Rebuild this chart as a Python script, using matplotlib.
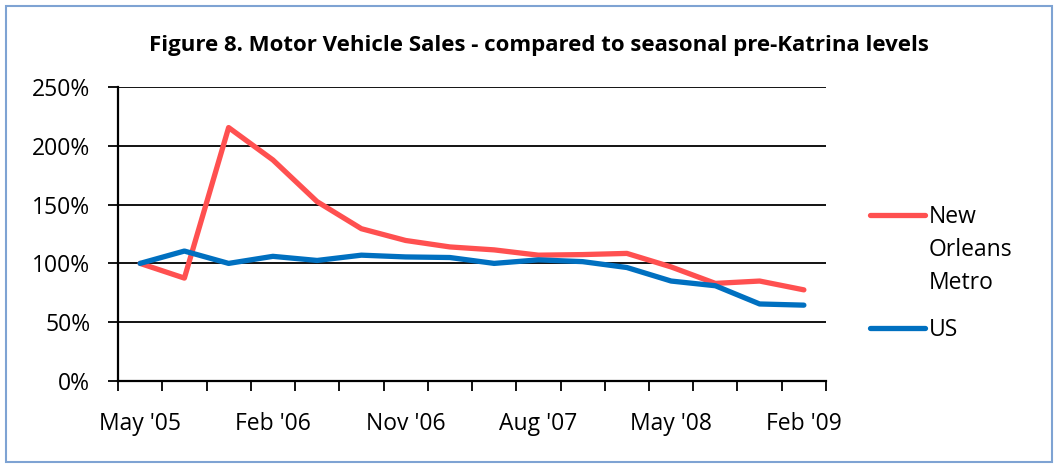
import matplotlib

matplotlib.use("Agg")
import matplotlib.pyplot as plt
from matplotlib.lines import Line2D
from matplotlib.patches import Rectangle
from matplotlib.ticker import FuncFormatter

quarters = ["May '05", "Aug '05", "Nov '05", "Feb '06", "May '06", "Aug '06",
            "Nov '06", "Feb '07", "May '07", "Aug '07", "Nov '07", "Feb '08",
            "May '08", "Aug '08", "Nov '08", "Feb '09"]
new_orleans = [100, 87.5, 215.5, 188, 152.5, 129.5, 119.5, 114, 111.5, 107,
               107.5, 108.5, 97, 83, 85, 77.5]
us = [100, 110.5, 100, 106, 102.5, 107, 105.5, 105, 100, 103, 101.5, 96.5,
      85, 81, 65.5, 64.5]

RED = "#FF5050"
BLUE = "#0070C0"
FONT = "Open Sans"
LABEL_SIZE = 16.5

plt.rcParams["font.family"] = FONT

fig = plt.figure(figsize=(10.58, 4.68), dpi=100)
ax = fig.add_axes([118 / 1058, 1 - 381 / 468, (826 - 118) / 1058, (381 - 87) / 468])

x = list(range(len(quarters)))
ax.plot(x, new_orleans, color=RED, lw=3.8, solid_capstyle="round", zorder=3)
ax.plot(x, us, color=BLUE, lw=3.8, solid_capstyle="round", zorder=4)

ax.set_xlim(-0.5, len(quarters) - 0.5)
ax.set_ylim(0, 250)
ax.set_yticks(range(0, 251, 50))
ax.yaxis.set_major_formatter(FuncFormatter(lambda v, _: f"{v:.0f}%"))
ax.grid(axis="y", color="black", lw=1.3)
ax.set_axisbelow(True)

ax.set_xticks(x[::3])
ax.set_xticklabels(quarters[::3])
ax.set_xticks([i - 0.5 for i in range(len(quarters) + 1)], minor=True)
ax.tick_params(axis="x", which="major", length=0, pad=22, labelsize=LABEL_SIZE)
ax.tick_params(axis="x", which="minor", length=7, width=1.3, direction="out")
ax.tick_params(axis="y", length=7, width=1.3, pad=13, labelsize=LABEL_SIZE)

for side in ("top", "right"):
    ax.spines[side].set_visible(False)
for side in ("left", "bottom"):
    ax.spines[side].set_linewidth(1.6)
    ax.spines[side].set_zorder(5)

fig.text(0.5 + 10 / 1058, 1 - 45 / 468,
         "Figure 8. Motor Vehicle Sales - compared to seasonal pre-Katrina levels",
         ha="center", va="center", fontsize=16, fontweight="bold")

# legend drawn by hand so the red key sits on the first text line
for col, ypix, label in [(RED, 215, "New\nOrleans\nMetro"), (BLUE, 328, "US")]:
    yf = 1 - ypix / 468
    fig.add_artist(Line2D([870 / 1058, 925 / 1058], [yf, yf], color=col, lw=3.8,
                          solid_capstyle="round", transform=fig.transFigure))
    fig.text(929 / 1058, yf + 10 / 468, label, ha="left", va="top",
             fontsize=LABEL_SIZE, linespacing=1.5)

fig.add_artist(Rectangle((6 / 1058, 6 / 468), 1 - 12 / 1058, 1 - 12 / 468,
                         transform=fig.transFigure, fill=False,
                         edgecolor="#7EA3D3", lw=1.5))

fig.savefig("out.png", dpi=100)
